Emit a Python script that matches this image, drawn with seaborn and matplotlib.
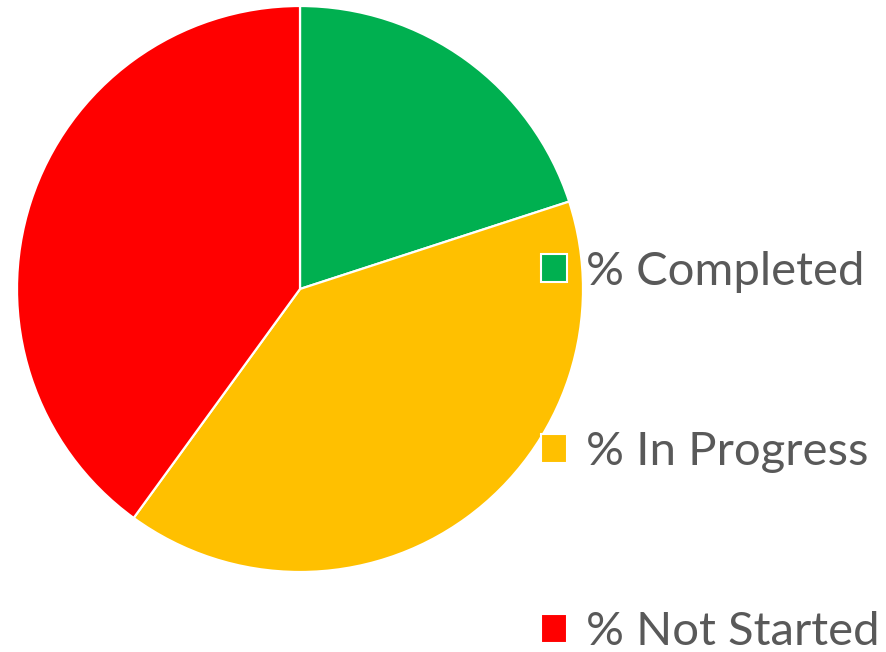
import matplotlib
matplotlib.use("Agg")
import matplotlib.pyplot as plt
from matplotlib.patches import Patch
import seaborn as sns

# Task status breakdown
categories = ["% Completed", "% In Progress", "% Not Started"]
shares = [20, 40, 40]
colors = ["#00B050", "#FFC000", "#FF0000"]

sns.set_theme(style="white")
plt.rcParams["font.family"] = ["Lato", "DejaVu Sans"]

W, H = 886, 652
fig = plt.figure(figsize=(W / 100, H / 100), dpi=100)
fig.patch.set_facecolor("white")

cx, cy, r = 300, 289, 283
ax = fig.add_axes([(cx - r) / W, (H - cy - r) / H, 2 * r / W, 2 * r / H])
ax.pie(shares, colors=colors, startangle=90, counterclock=False, radius=1,
       wedgeprops=dict(edgecolor="white", linewidth=1.6))
ax.set_xlim(-1, 1)
ax.set_ylim(-1, 1)
ax.set_aspect("equal")
ax.axis("off")

handles = [Patch(facecolor=c, edgecolor="white", linewidth=1.5) for c in colors]
leg = fig.legend(handles, categories, loc="center left",
                 bbox_to_anchor=(541 / W, 1 - 452 / H),
                 frameon=False, fontsize=34, labelcolor="#595959",
                 handlelength=0.55, handleheight=0.55, handletextpad=0.4,
                 labelspacing=2.93, borderpad=0, borderaxespad=0)

fig.savefig("out.png", dpi=100, facecolor="white")
